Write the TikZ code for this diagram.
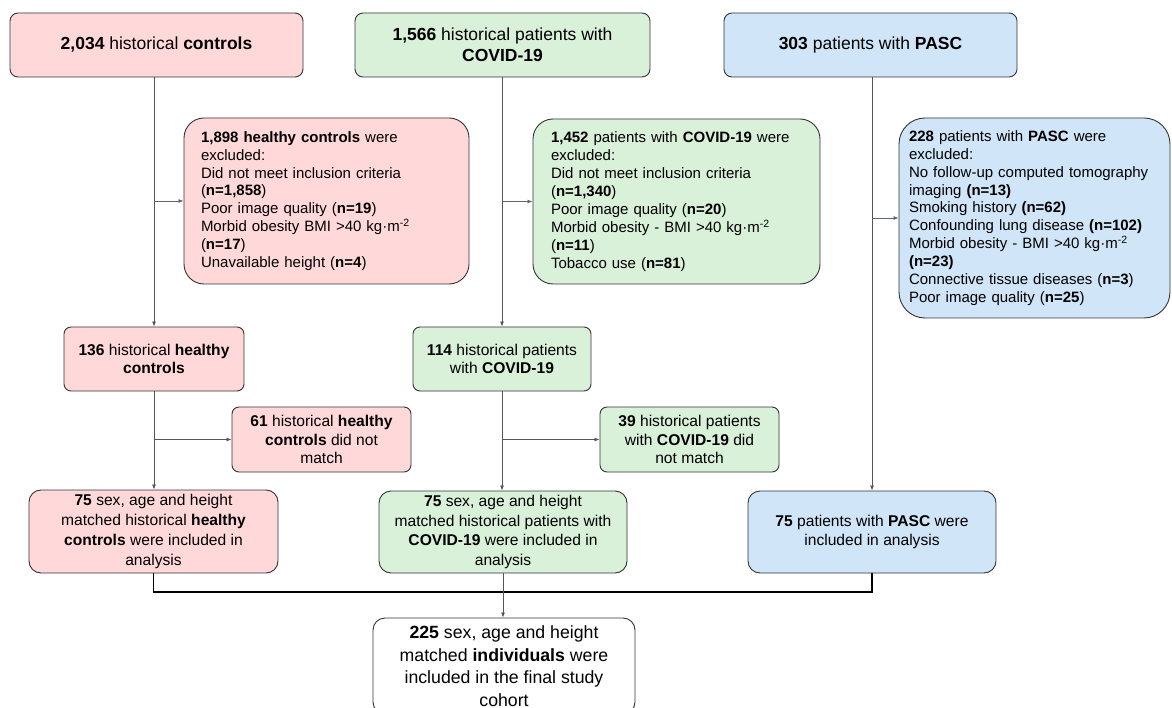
\documentclass[tikz,border=0pt]{standalone}
\usepackage{fontspec}
\setmainfont{Liberation Sans}
\usetikzlibrary{arrows.meta}
\definecolor{pinkfill}{HTML}{FFD9D9}
\definecolor{greenfill}{HTML}{D9F0D9}
\definecolor{bluefill}{HTML}{D0E5F8}
\definecolor{bordercol}{HTML}{333333}
\definecolor{linecol}{HTML}{555555}
\definecolor{branchcol}{HTML}{5A6878}
\tikzset{
  boxbase/.style={draw=bordercol, line width=0.9pt, inner sep=0pt, align=center},
  topbox/.style={boxbase, rounded corners=8pt, minimum height=64pt, font={\fontsize{17.5}{21}\selectfont}},
  exbox/.style={boxbase, rounded corners=20pt, align=left, font={\fontsize{15}{17.9}\selectfont}},
  midbox/.style={boxbase, rounded corners=7pt, font={\fontsize{15.6}{18.8}\selectfont}},
  finbox/.style={boxbase, rounded corners=12pt, font={\fontsize{17.7}{22.5}\selectfont}},
  pinkbox/.style={fill=pinkfill},
  greenbox/.style={fill=greenfill},
  bluebox/.style={fill=bluefill},
  flow/.style={draw=linecol, line width=0.8pt},
  flowarrow/.style={flow, -{Latex[length=5pt,width=4pt]}},
  brancharrow/.style={draw=branchcol, line width=0.8pt, -{Latex[length=5pt,width=4pt]}},
  joinline/.style={draw=black, line width=1.2pt}
}
\begin{document}
\begin{tikzpicture}[x=1pt,y=-1pt]
\clip (0,0) rectangle (1172,708);
\fill[white] (0,0) rectangle (1172,708);

% top row
\node[topbox, pinkbox, minimum width=293pt] (A1) at (156.5,45) {\textbf{2,034} historical \textbf{controls}};
\node[topbox, greenbox, minimum width=295pt] (B1) at (502.5,45) {\textbf{1,566} historical patients with\\\textbf{COVID-19}};
\node[topbox, bluebox, minimum width=293pt] (C1) at (870.5,45) {\textbf{303} patients with \textbf{PASC}};

% exclusion boxes
\node[exbox, pinkbox, text width=251pt, inner xsep=17pt, minimum height=166pt] (A2) at (326.5,201)
{\textbf{1,898 healthy controls} were\\
excluded:\\
Did not meet inclusion criteria\\
(\textbf{n=1,858})\\
Poor image quality (\textbf{n=19})\\
Morbid obesity BMI >40 kg·m\textsuperscript{-2}\\
(\textbf{n=17})\\
Unavailable height (\textbf{n=4})};

\node[exbox, greenbox, text width=251pt, inner xsep=18pt, minimum height=165pt] (B2) at (676.5,201.5)
{\textbf{1,452} patients with \textbf{COVID-19} were\\
excluded:\\
Did not meet inclusion criteria\\
(\textbf{n=1,340})\\
Poor image quality (\textbf{n=20})\\
Morbid obesity - BMI >40 kg·m\textsuperscript{-2}\\
(\textbf{n=11})\\
Tobacco use (\textbf{n=81})};

\node[exbox, bluebox, rounded corners=26pt, text width=251pt, inner xsep=10pt, minimum height=200pt] (C2) at (1034.5,218)
{\textbf{228} patients with \textbf{PASC} were\\
excluded:\\
No follow-up computed tomography\\
imaging \textbf{(n=13)}\\
Smoking history \textbf{(n=62)}\\
Confounding lung disease \textbf{(n=102)}\\
Morbid obesity - BMI >40 kg·m\textsuperscript{-2}\\
\textbf{(n=23)}\\
Connective tissue diseases (\textbf{n=3})\\
Poor image quality (\textbf{n=25})};

% middle boxes
\node[midbox, pinkbox, minimum width=180pt, minimum height=64pt] (A3) at (154,359)
{\textbf{136} historical \textbf{healthy}\\\textbf{controls}};
\node[midbox, greenbox, minimum width=178pt, minimum height=64pt] (B3) at (502,359)
{\textbf{114} historical patients\\with \textbf{COVID-19}};

\node[midbox, pinkbox, minimum width=179pt, minimum height=65pt] (A4) at (321.5,439.5)
{\textbf{61} historical \textbf{healthy}\\\textbf{controls} did not\\match};
\node[midbox, greenbox, minimum width=179pt, minimum height=65pt] (B4) at (689.5,439.5)
{\textbf{39} historical patients\\with \textbf{COVID-19} did\\not match};

% included boxes
\node[midbox, pinkbox, rounded corners=12pt, minimum width=249pt, minimum height=83pt, font={\fontsize{15.6}{19.8}\selectfont}] (A5) at (153.5,531.5)
{\textbf{75} sex, age and height\\matched historical \textbf{healthy}\\\textbf{controls} were included in\\analysis};
\node[midbox, greenbox, rounded corners=12pt, minimum width=248pt, minimum height=82pt, font={\fontsize{15.6}{19.8}\selectfont}] (B5) at (503,532)
{\textbf{75} sex, age and height\\matched historical patients with\\\textbf{COVID-19} were included in\\analysis};
\node[midbox, bluebox, rounded corners=12pt, minimum width=248pt, minimum height=82pt] (C5) at (872,532)
{\textbf{75} patients with \textbf{PASC} were\\included in analysis};

% final box
\node[finbox, fill=white, minimum width=262pt, minimum height=96pt] (D) at (504,666)
{\textbf{225} sex, age and height\\matched \textbf{individuals} were\\included in the final study\\cohort};

% connectors
\draw[flowarrow] (A3.north |- A1.south) -- (A3.north);
\draw[brancharrow] (A3.north |- A2.west) -- (A2.west);
\draw[flowarrow] (B3.north |- B1.south) -- (B3.north);
\draw[brancharrow] (B3.north |- B2.west) -- (B2.west);
\draw[flowarrow] (C5.north |- C1.south) -- (C5.north);
\draw[brancharrow] (C5.north |- C2.west) -- (C2.west);

\draw[flowarrow] (A3.south) -- (A5.north -| A3.south);
\draw[flowarrow] (A3.south |- A4.west) -- (A4.west);
\draw[flowarrow] (B3.south) -- (B5.north -| B3.south);
\draw[flowarrow] (B3.south |- B4.west) -- (B4.west);

\coordinate (J) at (503,592);
\draw[joinline] (A5.south) |- (J) -| (C5.south);
\draw[flow] (B5.south) -- (J);
\draw[flowarrow] (J) -- (D.north -| J);
\end{tikzpicture}
\end{document}
